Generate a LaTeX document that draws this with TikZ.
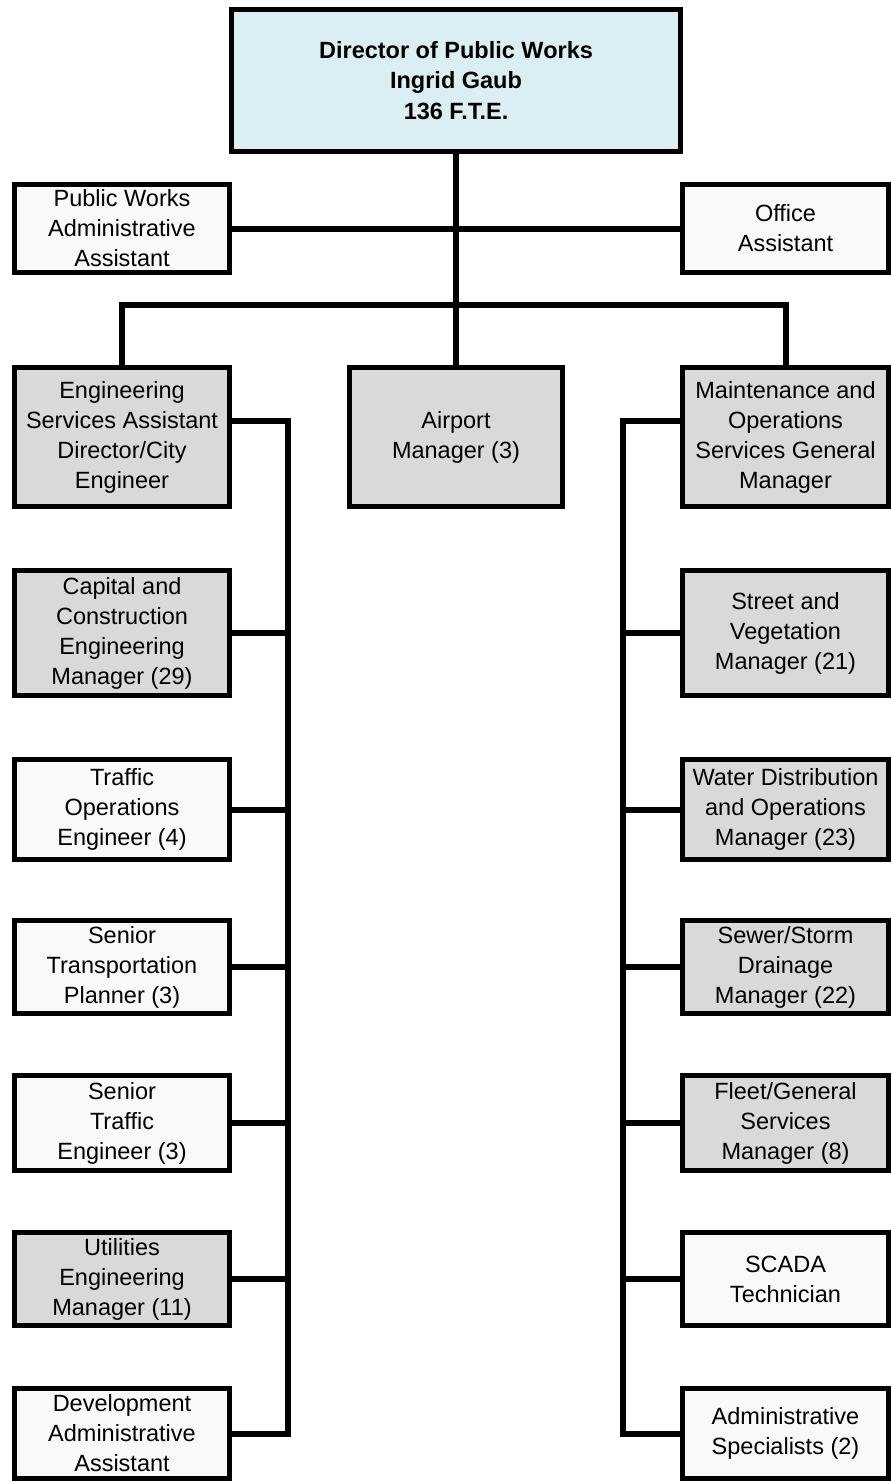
\documentclass[tikz,border=0pt]{standalone}
\usepackage{fontspec}
\setmainfont{Liberation Sans}
\definecolor{dirblue}{HTML}{DAEEF3}
\definecolor{boxgray}{HTML}{D9D9D9}
\definecolor{boxwhite}{HTML}{F9F9F9}
\begin{document}
\begin{tikzpicture}[x=1pt,y=-1pt,
  box/.style={draw=black, line width=5pt, align=center, inner sep=2pt,
    font=\fontsize{23.5}{30}\selectfont, text=black},
  gbox/.style={box, fill=boxgray},
  wbox/.style={box, fill=boxwhite},
  leftcol/.style={minimum width=215pt},
  rightcol/.style={minimum width=206pt},
  conn/.style={draw=black, line width=6pt}]
\fill[fill=white] (0,0) rectangle (891,1482);
\useasboundingbox (0,0) rectangle (891,1482);

\node[box, fill=dirblue, minimum width=449pt, minimum height=142pt,
  font=\fontsize{23.5}{30.5}\selectfont\bfseries] (dir) at (456,80.5)
  {Director of Public Works\\Ingrid Gaub\\136 F.T.E.};

\node[wbox, leftcol, minimum height=88pt] (pwa) at (122,228.5)
  {Public Works\\Administrative\\Assistant};
\node[wbox, rightcol, minimum height=88pt] (off) at (785.5,228.5)
  {Office\\Assistant};

\node[gbox, leftcol, minimum height=139pt] (eng) at (122,437)
  {Engineering\\Services Assistant\\Director/City\\Engineer};
\node[gbox, minimum width=213pt, minimum height=139pt] (air) at (456,437)
  {Airport\\Manager (3)};
\node[gbox, rightcol, minimum height=139pt] (mnt) at (785.5,437)
  {Maintenance and\\Operations\\Services General\\Manager};

\node[gbox, leftcol, minimum height=125pt] (cap) at (122,633)
  {Capital and\\Construction\\Engineering\\Manager (29)};
\node[wbox, leftcol, minimum height=100pt] (tra) at (122,809.5)
  {Traffic\\Operations\\Engineer (4)};
\node[wbox, leftcol, minimum height=93pt] (stp) at (122,967)
  {Senior\\Transportation\\Planner (3)};
\node[wbox, leftcol, minimum height=95pt] (ste) at (122,1123)
  {Senior\\Traffic\\Engineer (3)};
\node[gbox, leftcol, minimum height=93pt] (uti) at (122,1279)
  {Utilities\\Engineering\\Manager (11)};
\node[wbox, leftcol, minimum height=90pt] (dev) at (122,1433.5)
  {Development\\Administrative\\Assistant};

\node[gbox, rightcol, minimum height=125pt] (str) at (785.5,633)
  {Street and\\Vegetation\\Manager (21)};
\node[gbox, rightcol, minimum height=100pt] (wat) at (785.5,809.5)
  {Water Distribution\\and Operations\\Manager (23)};
\node[gbox, rightcol, minimum height=93pt] (sew) at (785.5,967)
  {Sewer/Storm\\Drainage\\Manager (22)};
\node[gbox, rightcol, minimum height=95pt] (flt) at (785.5,1123)
  {Fleet/General\\Services\\Manager (8)};
\node[wbox, rightcol, minimum height=93pt] (sca) at (785.5,1279)
  {SCADA\\Technician};
\node[wbox, rightcol, minimum height=90pt] (asp) at (785.5,1433.5)
  {Administrative\\Specialists (2)};

\coordinate (bar) at (122,305);
\coordinate (lbus) at (288,421);
\coordinate (rbus) at (623,421);

\draw[conn] (dir.south) -- (air.north);
\draw[conn] (pwa.east) -- (off.west);
\draw[conn] (eng.north) -- (eng.north |- bar) -| (mnt.north);

\draw[conn] (eng.east |- lbus) -- (lbus) -- (lbus |- dev.east) -- (dev.east);
\foreach \n in {cap,tra,stp,ste,uti}
  \draw[conn] (\n.east) -- (\n.east -| lbus);

\draw[conn] (mnt.west |- rbus) -- (rbus) -- (rbus |- asp.west) -- (asp.west);
\foreach \n in {str,wat,sew,flt,sca}
  \draw[conn] (\n.west) -- (\n.west -| rbus);
\end{tikzpicture}
\end{document}
